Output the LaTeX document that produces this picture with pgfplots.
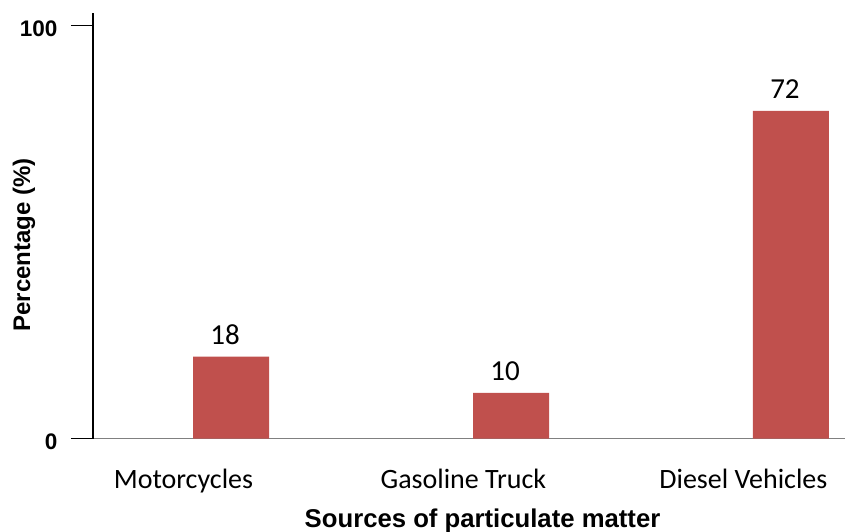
\documentclass[border=0pt]{standalone}
\usepackage{pgfplots}
\pgfplotsset{compat=1.18}
\usepackage{fontspec}
\setmainfont{Carlito}
\newfontfamily\arial{Liberation Sans}
\definecolor{barred}{HTML}{C0504D}
\begin{document}
\begin{tikzpicture}
\path[use as bounding box] (-93pt,-92.5pt) rectangle (752pt,438.5pt);
\begin{axis}[
  scale only axis, width=752pt, height=425.5pt,
  xmin=-0.493, xmax=2.193, ymin=0, ymax=93.5,
  axis x line*=bottom, axis y line*=left,
  x axis line style={draw=black!50, line width=1pt},
  y axis line style={draw=black, line width=1.6pt},
  xtick={-0.17,0.83,1.83},
  xticklabels={Motorcycles, Gasoline Truck, Diesel Vehicles},
  xtick style={draw=none},
  ytick={0,90.66}, yticklabels={0,100},
  ytick style={draw=black, line width=1pt},
  tick align=outside, major tick length=22pt,
  yticklabel style={font=\arial\bfseries\fontsize{22.5}{26}\selectfont, anchor=east, xshift=-10pt, yshift=-3pt},
  xticklabel style={font=\fontsize{28}{34}\selectfont, anchor=base, yshift=-28pt},
  xlabel={Sources of particulate matter},
  xlabel style={at={(axis description cs:0.518,-0.208)}, anchor=base, font=\arial\bfseries\fontsize{25.7}{30}\selectfont},
  ylabel={Percentage (\%)},
  ylabel style={at={(axis description cs:-0.0918,0.455)}, anchor=center, font=\arial\bfseries\fontsize{24}{28}\selectfont},
  ybar, bar width=76pt,
  /pgf/number format/assume math mode=true,
  nodes near coords,
  every node near coord/.append style={font=\fontsize{29}{34}\selectfont, anchor=base, xshift=-6pt, yshift=12pt, black},
]
\addplot[fill=barred, draw=none] coordinates {(0,18) (1,10) (2,72)};
\end{axis}
\end{tikzpicture}
\end{document}
